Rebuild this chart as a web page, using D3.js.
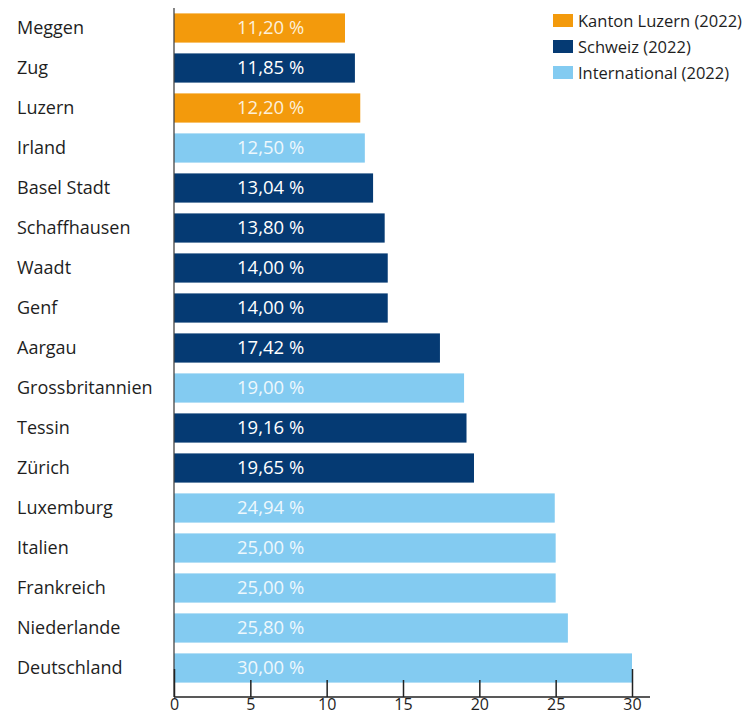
<!DOCTYPE html>
<html>
<head>
<meta charset="utf-8">
<script src="https://cdn.jsdelivr.net/npm/d3@7"></script>
<style>
  body { margin: 0; background: #fff; }
  text { font-family: "Open Sans", Lato, sans-serif; }
</style>
</head>
<body>
<div id="chart"></div>
<script>
const categories = ["Meggen", "Zug", "Luzern", "Irland", "Basel Stadt", "Schaffhausen", "Waadt", "Genf",
  "Aargau", "Grossbritannien", "Tessin", "Zürich", "Luxemburg", "Italien", "Frankreich", "Niederlande", "Deutschland"]
const values = [11.20, 11.85, 12.20, 12.50, 13.04, 13.80, 14.00, 14.00, 17.42, 19.00, 19.16, 19.65, 24.94, 25.00, 25.00, 25.80, 30.00]
const groups = ["lu", "ch", "lu", "int", "ch", "ch", "ch", "ch", "ch", "int", "ch", "ch", "int", "int", "int", "int", "int"]
const legend_keys = ["lu", "ch", "int"]
const legend_labels = ["Kanton Luzern (2022)", "Schweiz (2022)", "International (2022)"]
const x_ticks = [0, 5, 10, 15, 20, 25, 30]

const colors = {lu: "#f39a0c", ch: "#053a73", int: "#83cbf1"}
const label_colors = {lu: "#fdf0da", ch: "#ffffff", int: "#eef8fd"}

const width = 747, height = 715
const svg = d3.select("#chart").append("svg")
    .attr("width", width)
    .attr("height", height)

const x = d3.scaleLinear().domain([0, 30]).range([174, 632])
const y = d3.scaleBand().domain(categories).range([8, 688]).paddingInner(0.27).paddingOuter(0.135)

// bars
svg.selectAll(".bar")
    .data(categories)
    .enter()
    .append("rect")
    .attr("x", x(0))
    .attr("y", d => y(d))
    .attr("width", (d, i) => x(values[i]) - x(0))
    .attr("height", y.bandwidth())
    .attr("fill", (d, i) => colors[groups[i]])

// value labels
svg.selectAll(".val")
    .data(categories)
    .enter()
    .append("text")
    .attr("x", x(0) + 63)
    .attr("y", d => y(d) + y.bandwidth() / 2)
    .attr("dy", "0.35em")
    .style("font-size", "18.5px")
    .attr("fill", (d, i) => label_colors[groups[i]])
    .text((d, i) => values[i].toFixed(2).replace(".", ",") + " %")

// category labels
svg.selectAll(".cat")
    .data(categories)
    .enter()
    .append("text")
    .attr("x", 17)
    .attr("y", d => y(d) + y.bandwidth() / 2)
    .attr("dy", "0.35em")
    .style("font-size", "18px")
    .attr("fill", "#1e1e1e")
    .text(d => d)

// vertical axis line
svg.append("line")
    .attr("x1", x(0)).attr("x2", x(0))
    .attr("y1", 8).attr("y2", 697)
    .attr("stroke", "#444").attr("stroke-width", 1.3)

// bottom axis
const axis = svg.append("g")
    .attr("transform", "translate(0,697)")
    .call(d3.axisBottom(x)
        .tickValues(x_ticks)
        .tickSize(0)
        .tickPadding(2)
    )
axis.select(".domain").remove()
axis.append("line")
    .attr("x1", x(0)).attr("x2", 650)
    .attr("stroke", "#222").attr("stroke-width", 1.5)
axis.selectAll(".tick").append("line")
    .attr("y1", d => (d === 0 || d === 30) ? -28 : -17)
    .attr("y2", 0)
    .attr("stroke", "#222")
    .attr("stroke-width", 1.5)
axis.selectAll(".tick text")
    .style("font-size", "16px")
    .style("font-family", "'Open Sans', Lato, sans-serif")
    .attr("fill", "#1e1e1e")
    .attr("dy", "0.71em")
</script>
<script>
// legend
const legend = svg.append("g").attr("transform", "translate(553,14)")
legend_keys.forEach((k, i) => {
    legend.append("rect")
        .attr("x", 0).attr("y", i * 26)
        .attr("width", 20).attr("height", 13)
        .attr("fill", colors[k])
    legend.append("text")
        .attr("x", 25).attr("y", i * 26 + 7)
        .attr("dy", "0.35em")
        .style("font-size", "16.5px")
        .attr("fill", "#1e1e1e")
        .text(legend_labels[i])
})
</script>
</body>
</html>
